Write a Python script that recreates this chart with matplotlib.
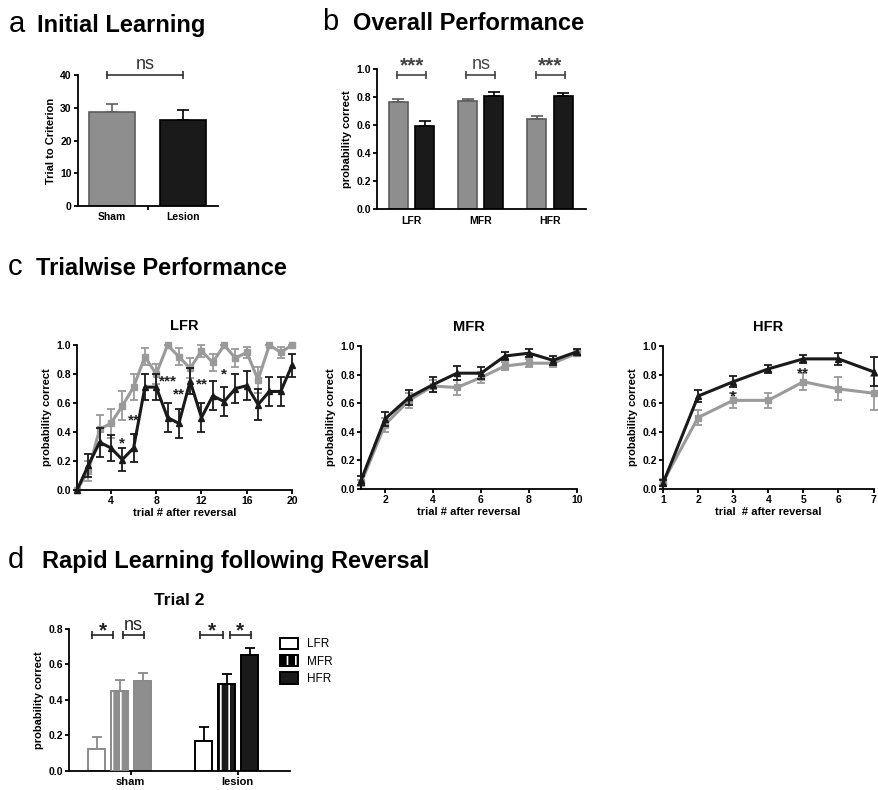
import matplotlib.pyplot as plt
from matplotlib.patches import Patch
from matplotlib.legend_handler import HandlerTuple

plt.rcParams['font.family'] = ['Liberation Sans', 'DejaVu Sans']
plt.rcParams['font.weight'] = 'bold'
plt.rcParams['axes.labelweight'] = 'bold'
plt.rcParams['axes.titleweight'] = 'bold'
plt.rcParams['hatch.linewidth'] = 1.2

GRAY = '#8e8e8e'
GRAY_EDGE = '#5c5c5c'
GRAY_LINE = '#9a9a9a'
BLACK = '#1a1a1a'

# ---- panel a: initial learning ----
groups_a = ['Sham', 'Lesion']
trials_to_criterion = [28.8, 26.2]
trials_to_criterion_sem = [2.5, 3.2]

# ---- panel b: overall performance ----
freq_labels = ['LFR', 'MFR', 'HFR']
overall_sham = [0.765, 0.775, 0.645]
overall_sham_sem = [0.018, 0.012, 0.022]
overall_lesion = [0.59, 0.805, 0.805]
overall_lesion_sem = [0.038, 0.028, 0.025]
overall_sig = ['***', 'ns', '***']

# ---- panel c: trialwise performance ----
lfr_trials = list(range(1, 21))
lfr_sham = [0.0, 0.13, 0.42, 0.46, 0.58, 0.71, 0.92, 0.80, 1.0, 0.92,
            0.84, 0.96, 0.88, 1.0, 0.91, 0.95, 0.76, 1.0, 0.95, 1.0]
lfr_sham_sem = [0.0, 0.07, 0.10, 0.10, 0.10, 0.09, 0.06, 0.07, 0.0, 0.06,
                0.07, 0.04, 0.06, 0.0, 0.06, 0.04, 0.09, 0.0, 0.04, 0.0]
lfr_lesion = [0.0, 0.17, 0.33, 0.29, 0.21, 0.29, 0.71, 0.71, 0.50, 0.46,
              0.75, 0.50, 0.65, 0.61, 0.70, 0.72, 0.59, 0.68, 0.68, 0.86]
lfr_lesion_sem = [0.0, 0.08, 0.10, 0.09, 0.08, 0.10, 0.09, 0.09, 0.10, 0.10,
                  0.09, 0.10, 0.10, 0.10, 0.10, 0.10, 0.11, 0.10, 0.10, 0.08]
lfr_sig_trials = [5, 6, 9, 10, 12, 14]
lfr_sig_labels = ['*', '**', '***', '**', '**', '*']

mfr_trials = list(range(1, 11))
mfr_sham = [0.04, 0.45, 0.62, 0.72, 0.71, 0.78, 0.86, 0.88, 0.88, 0.95]
mfr_sham_sem = [0.02, 0.05, 0.05, 0.04, 0.05, 0.04, 0.03, 0.03, 0.03, 0.02]
mfr_lesion = [0.06, 0.49, 0.64, 0.73, 0.81, 0.81, 0.93, 0.95, 0.90, 0.96]
mfr_lesion_sem = [0.03, 0.05, 0.05, 0.05, 0.05, 0.04, 0.03, 0.03, 0.03, 0.02]

hfr_trials = list(range(1, 8))
hfr_sham = [0.05, 0.50, 0.62, 0.62, 0.75, 0.70, 0.67]
hfr_sham_sem = [0.02, 0.05, 0.05, 0.05, 0.06, 0.08, 0.12]
hfr_lesion = [0.04, 0.65, 0.75, 0.84, 0.91, 0.91, 0.82]
hfr_lesion_sem = [0.02, 0.04, 0.04, 0.03, 0.03, 0.04, 0.10]
hfr_sig_trials = [3, 5]
hfr_sig_labels = ['*', '**']

# ---- panel d: trial 2 ----
groups_d = ['sham', 'lesion']
trial2_sham = [0.125, 0.45, 0.505]
trial2_sham_sem = [0.068, 0.06, 0.048]
trial2_lesion = [0.17, 0.49, 0.655]
trial2_lesion_sem = [0.075, 0.055, 0.04]


def style_axes(ax, fs=7.5):
    for side in ('top', 'right'):
        ax.spines[side].set_visible(False)
    for side in ('left', 'bottom'):
        ax.spines[side].set_linewidth(1.3)
    ax.tick_params(width=1.3, length=3, labelsize=fs, pad=1.5)


def bracket(ax, x0, x1, y, text, color, fs, weight, dy):
    ax.plot([x0, x1], [y, y], color=color, lw=1.2, marker='|',
            markersize=6, markeredgewidth=1.2, clip_on=False)
    ax.text((x0 + x1) / 2, y + dy, text, ha='center', va='bottom',
            fontsize=fs, fontweight=weight, color=color, clip_on=False)


fig = plt.figure(figsize=(8.79, 7.90), dpi=100)

# panel headers
fig.text(0.010, 0.9595, 'a', fontsize=21, fontweight='normal', va='baseline')
fig.text(0.042, 0.9595, 'Initial Learning', fontsize=17, va='baseline')
fig.text(0.366, 0.962, 'b', fontsize=21, fontweight='normal', va='baseline')
fig.text(0.402, 0.962, 'Overall Performance', fontsize=17, va='baseline')
fig.text(0.009, 0.652, 'c', fontsize=21, fontweight='normal', va='baseline')
fig.text(0.041, 0.652, 'Trialwise Performance', fontsize=17, va='baseline')
fig.text(0.009, 0.281, 'd', fontsize=21, fontweight='normal', va='baseline')
fig.text(0.048, 0.281, 'Rapid Learning following Reversal', fontsize=17,
         va='baseline')

# ---- a ----
ax = fig.add_axes([0.0887, 0.7392, 0.159, 0.1658])
xa = [0, 1]
ax.bar(xa[0], trials_to_criterion[0], width=0.66, color=GRAY,
       edgecolor=GRAY_EDGE, lw=1.2, zorder=2)
ax.bar(xa[1], trials_to_criterion[1], width=0.66, color=BLACK,
       edgecolor='black', lw=1.2, zorder=2)
for x, v, e, c in zip(xa, trials_to_criterion, trials_to_criterion_sem,
                      [GRAY_EDGE, 'black']):
    ax.errorbar(x, v, yerr=[[0], [e]], color=c, capsize=4, lw=1.2,
                capthick=1.2, zorder=1)
ax.set_xlim(-0.48, 1.49)
ax.set_ylim(0, 40)
ax.set_yticks([0, 10, 20, 30, 40])
ax.set_xticks(xa)
ax.set_xticklabels(groups_a)
ax.set_xticks([0.51], minor=True)
ax.set_ylabel('Trial to Criterion', fontsize=8, labelpad=3)
style_axes(ax)
ax.tick_params(axis='x', which='major', length=0, pad=4)
ax.tick_params(axis='x', which='minor', length=3, width=1.3)
bracket(ax, -0.07, 1.0, 40, 'ns', '#333333', 13, 'normal', 0.6)

# ---- b ----
ax = fig.add_axes([0.4289, 0.7354, 0.2378, 0.1772])
xb = range(len(freq_labels))
off, w = 0.19, 0.275
for i in xb:
    ax.bar(i - off, overall_sham[i], width=w, color=GRAY, edgecolor=GRAY_EDGE,
           lw=1.2, zorder=2)
    ax.bar(i + off, overall_lesion[i], width=w, color=BLACK, edgecolor='black',
           lw=1.2, zorder=2)
    ax.errorbar(i - off, overall_sham[i], yerr=[[0], [overall_sham_sem[i]]],
                color=GRAY_EDGE, capsize=4, lw=1.2, capthick=1.2, zorder=1)
    ax.errorbar(i + off, overall_lesion[i], yerr=[[0], [overall_lesion_sem[i]]],
                color='black', capsize=4, lw=1.2, capthick=1.2, zorder=1)
    sig = overall_sig[i]
    if sig == 'ns':
        bracket(ax, i - 0.21, i + 0.21, 0.957, sig, '#444444', 13, 'normal', 0.012)
    else:
        bracket(ax, i - 0.21, i + 0.21, 0.957, sig, '#444444', 15, 'bold', 0.0)
ax.set_xlim(-0.5, 2.52)
ax.set_ylim(0, 1.0)
ax.set_yticks([0, 0.2, 0.4, 0.6, 0.8, 1.0])
ax.set_yticklabels(['0.0', '0.2', '0.4', '0.6', '0.8', '1.0'])
ax.set_xticks(list(xb))
ax.set_xticklabels(freq_labels)
ax.set_ylabel('probability correct', fontsize=8, labelpad=3)
style_axes(ax)
ax.tick_params(axis='x', length=0, pad=5)


# ---- c ----
def trial_panel(rect, title, trials, sham, sham_e, lesion, lesion_e,
                xticks, xlabel, sig_trials, sig_labels, sig_y):
    ax = fig.add_axes(rect)
    ax.errorbar(trials, sham, yerr=sham_e, color=GRAY_LINE, lw=2.2,
                marker='s', markersize=4.5, capsize=3, capthick=1.3,
                elinewidth=1.3, clip_on=False, zorder=2)
    ax.errorbar(trials, lesion, yerr=lesion_e, color=BLACK, lw=2.2,
                marker='^', markersize=4.5, capsize=3, capthick=1.3,
                elinewidth=1.3, clip_on=False, zorder=3)
    for t, lab, y in zip(sig_trials, sig_labels, sig_y):
        ax.text(t, y, lab, ha='center', va='center', fontsize=11,
                color='#222222', zorder=4)
    ax.set_xlim(trials[0], trials[-1])
    ax.set_ylim(0, 1.0)
    ax.set_xticks(xticks)
    ax.set_yticks([0, 0.2, 0.4, 0.6, 0.8, 1.0])
    ax.set_yticklabels(['0.0', '0.2', '0.4', '0.6', '0.8', '1.0'])
    ax.set_title(title, fontsize=10.5, pad=11)
    ax.set_xlabel(xlabel, fontsize=8, labelpad=1)
    ax.set_ylabel('probability correct', fontsize=8, labelpad=3)
    style_axes(ax)
    return ax


trial_panel([0.0876, 0.3797, 0.2446, 0.1835], 'LFR', lfr_trials,
            lfr_sham, lfr_sham_sem, lfr_lesion, lfr_lesion_sem,
            [4, 8, 12, 16, 20], 'trial # after reversal',
            lfr_sig_trials, lfr_sig_labels, [0.32, 0.48, 0.75, 0.66, 0.73, 0.80])
trial_panel([0.4107, 0.381, 0.2457, 0.181], 'MFR', mfr_trials,
            mfr_sham, mfr_sham_sem, mfr_lesion, mfr_lesion_sem,
            [2, 4, 6, 8, 10], 'trial # after reversal', [], [], [])
trial_panel([0.7543, 0.381, 0.2395, 0.181], 'HFR', hfr_trials,
            hfr_sham, hfr_sham_sem, hfr_lesion, hfr_lesion_sem,
            [1, 2, 3, 4, 5, 6, 7], 'trial  # after reversal',
            hfr_sig_trials, hfr_sig_labels, [0.65, 0.81])

# ---- d ----
ax = fig.add_axes([0.0785, 0.0241, 0.2514, 0.1797])
sp, wd = 0.215, 0.16
group_styles = [
    (trial2_sham, trial2_sham_sem, GRAY, '#8a8a8a'),
    (trial2_lesion, trial2_lesion_sem, BLACK, 'black'),
]
for g, (vals, errs, fill, edge) in enumerate(group_styles):
    xs = [g - sp, g, g + sp]
    # LFR: open bar
    ax.bar(xs[0], vals[0], width=wd, facecolor='white', edgecolor=edge,
           lw=1.4, zorder=2)
    # MFR: striped bar
    ax.bar(xs[1], vals[1], width=wd, facecolor=fill, edgecolor='white',
           hatch='||', lw=0, zorder=2)
    ax.bar(xs[1], vals[1], width=wd, fill=False, edgecolor=edge, lw=1.4,
           zorder=3)
    # HFR: solid bar
    ax.bar(xs[2], vals[2], width=wd, facecolor=fill, edgecolor=edge,
           lw=1.4, zorder=2)
    for x, v, e in zip(xs, vals, errs):
        ax.errorbar(x, v, yerr=[[0], [e]], color=edge, capsize=3.5, lw=1.3,
                    capthick=1.3, zorder=1)
# significance brackets
bracket(ax, -sp - 0.04, -0.06, 0.766, '*', '#222222', 15, 'bold', -0.03)
bracket(ax, 0.03, sp + 0.01, 0.766, 'ns', '#222222', 13, 'normal', 0.005)
bracket(ax, 1 - sp - 0.03, 0.97, 0.766, '*', '#222222', 15, 'bold', -0.03)
bracket(ax, 1.03, 1 + sp + 0.01, 0.766, '*', '#222222', 15, 'bold', -0.03)
ax.set_xlim(-0.472, 1.593)
ax.set_ylim(0, 0.8)
ax.set_yticks([0, 0.2, 0.4, 0.6, 0.8])
ax.set_yticklabels(['0.0', '0.2', '0.4', '0.6', '0.8'])
ax.set_xticks([0.105, 1.105])
ax.set_xticklabels(groups_d)
ax.set_ylabel('probability correct', fontsize=8, labelpad=3)
ax.set_title('Trial 2', fontsize=12.5, pad=17)
style_axes(ax)
ax.tick_params(axis='x', labelsize=8)

h_lfr = Patch(facecolor='white', edgecolor='black', lw=1.4)
h_mfr = (Patch(facecolor='black', edgecolor='white', hatch='||', lw=0),
         Patch(fill=False, edgecolor='black', lw=1.4))
h_hfr = Patch(facecolor=BLACK, edgecolor='black', lw=1.4)
ax.legend([h_lfr, h_mfr, h_hfr], freq_labels,
          handler_map={tuple: HandlerTuple(ndivide=1, pad=0)},
          loc='upper left', bbox_to_anchor=(0.955, 0.94), frameon=False,
          prop={'size': 8.5, 'weight': 'normal'}, handlelength=1.5,
          handleheight=1.1, labelspacing=0.4, handletextpad=0.8,
          borderpad=0, borderaxespad=0)

fig.savefig('out.png', dpi=100)
